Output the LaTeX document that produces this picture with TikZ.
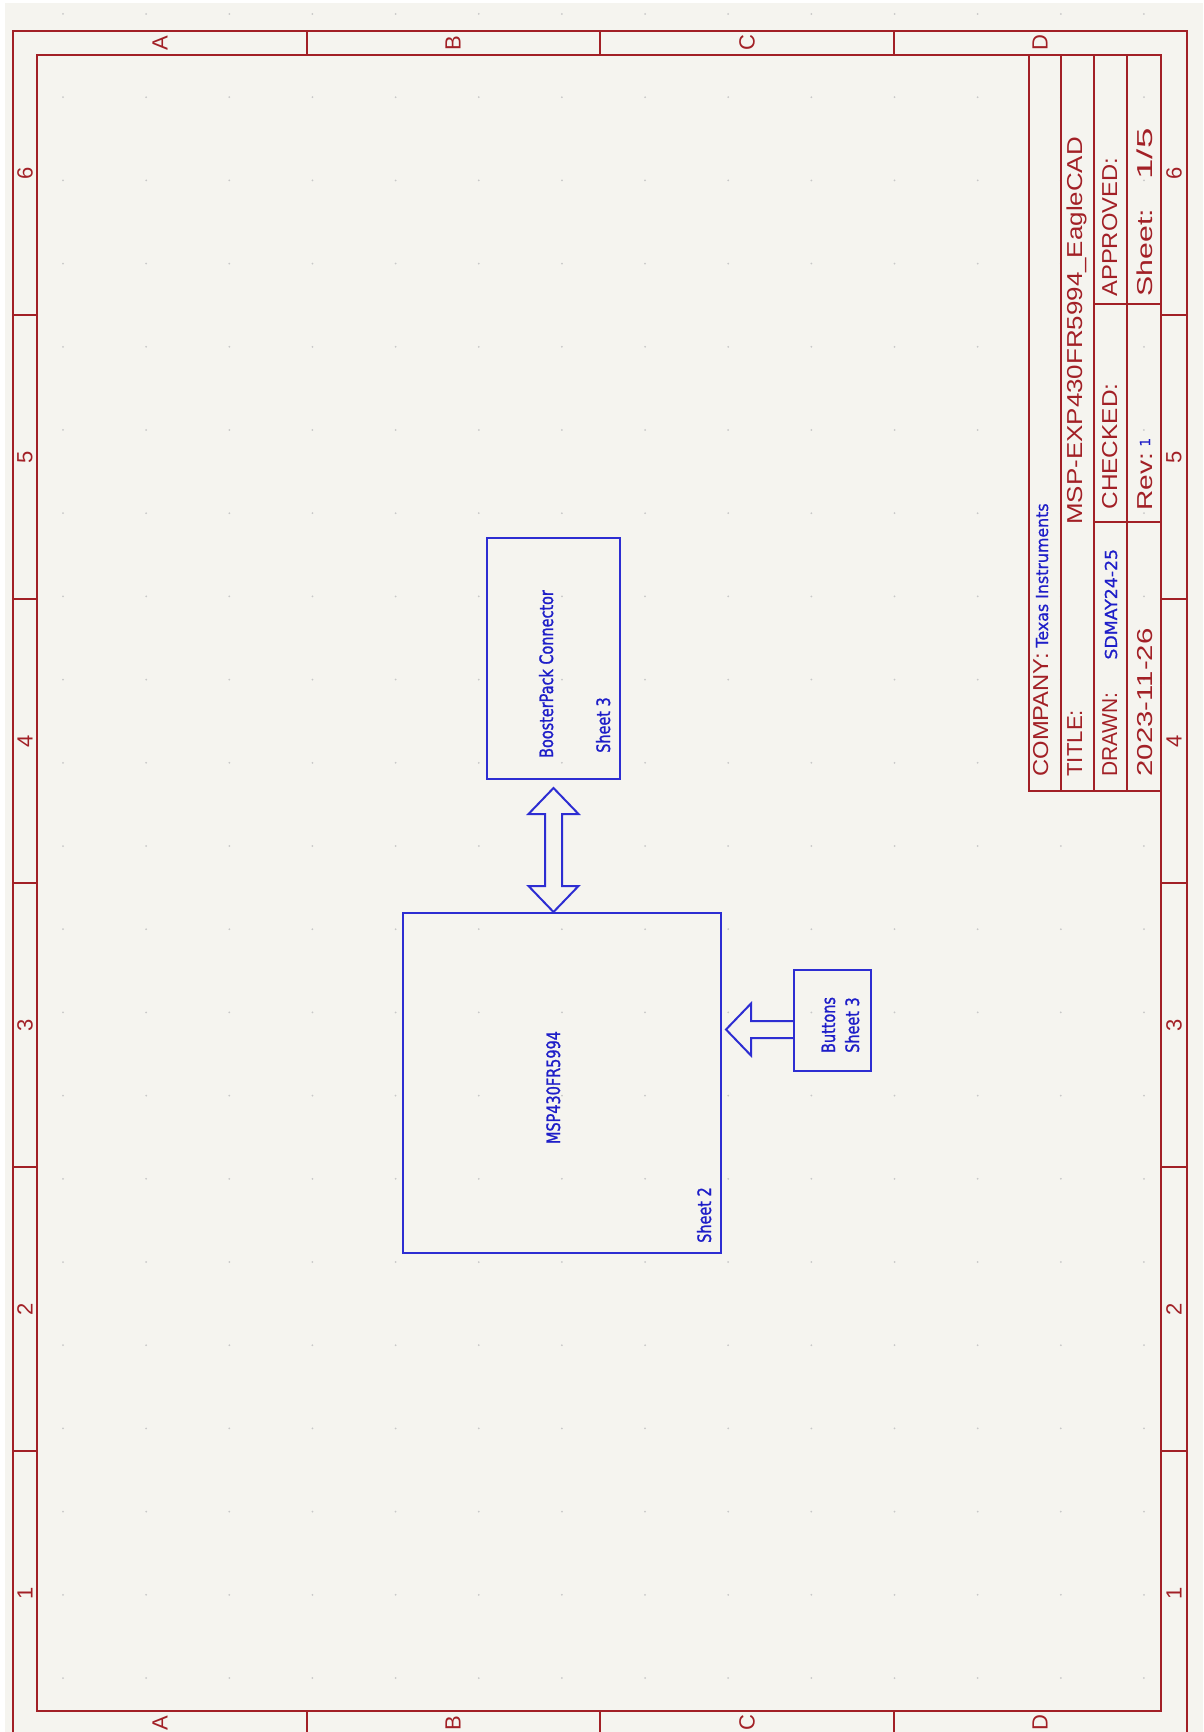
\documentclass[tikz,border=0pt]{standalone}
\usepackage{fontspec}
\setmainfont{Liberation Sans}
\newfontfamily\redfont{Liberation Sans}
\newfontfamily\bluefont[FakeStretch=0.78,FakeBold=1.2]{DejaVu Sans}
\newfontfamily\tbbluefont[FakeBold=0.8]{DejaVu Sans}
\usetikzlibrary{calc}
\definecolor{kired}{RGB}{162,32,38}
\definecolor{kiblue}{RGB}{45,45,210}
\definecolor{kitxt}{RGB}{30,30,200}
\definecolor{kibg}{RGB}{245,244,239}
\definecolor{griddot}{RGB}{200,200,200}
\newcommand{\sx}[2]{\scalebox{#1}[1]{#2}}
\tikzset{
  redline/.style={draw=kired, line width=1pt},
  sheetbox/.style={draw=kiblue, line width=1pt, inner sep=0pt, rectangle},
  arrowshape/.style={draw=kiblue, line width=1pt, line join=miter},
  borderlbl/.style={text=kired, font=\redfont\fontsize{11pt}{11pt}\selectfont, rotate=90, inner sep=0pt},
  tbtext/.style={text=kired, font=\redfont\fontsize{10.8pt}{10.8pt}\selectfont, rotate=90, inner sep=0pt, anchor=base west},
  tbblue/.style={text=kitxt, font=\tbbluefont\fontsize{8.25pt}{8.25pt}\selectfont, rotate=90, inner sep=0pt, anchor=base west},
  tbbluesmall/.style={text=kitxt, font=\tbbluefont\fontsize{6.9pt}{6.9pt}\selectfont, rotate=90, inner sep=0pt, anchor=base west},
  sheettext/.style={text=kitxt, font=\bluefont\fontsize{9.25pt}{9.25pt}\selectfont, rotate=90, inner sep=0pt, anchor=base},
}
\begin{document}
\begin{tikzpicture}[x=0.5pt,y=-0.5pt]
\useasboundingbox (0,0) rectangle (1203,1732);
\fill[white] (0,0) rectangle (1203,1732);
\fill[kibg] (5,3) rectangle (1203,1732);
% grid dots
\foreach \i in {0,...,13}{
  \foreach \j in {0,...,20}{
    \fill[griddot] ({63+83.15*\i},{14+83.2*\j}) circle[radius=1];
  }
}
% frame
\draw[redline] (13,31) rectangle (1187,1735);
\draw[redline] (37,55) rectangle (1161,1711);
\foreach \x in {306.5,600,893.5}{
  \draw[redline] (\x,31) -- (\x,55);
  \draw[redline] (\x,1711) -- (\x,1735);
}
\foreach \y in {315,599,883,1167,1451}{
  \draw[redline] (13,\y) -- (37,\y);
  \draw[redline] (1161,\y) -- (1187,\y);
}
\foreach \l/\x in {A/160,B/453,C/747,D/1040}{
  \node[borderlbl] (ct\l) at (\x,43) {\l};
  \node[borderlbl] (cb\l) at (\x,1723) {\l};
}
\foreach \n/\y in {6/173,5/457,4/741,3/1025,2/1309,1/1593}{
  \node[borderlbl] (rl\n) at (25,\y) {\n};
  \node[borderlbl] (rr\n) at (1174,\y) {\n};
}
% title block
\draw[redline] (1029,55) rectangle (1161,791);
\draw[redline] (1061,55) -- (1061,791);
\draw[redline] (1094,55) -- (1094,791);
\draw[redline] (1127,55) -- (1127,791);
\draw[redline] (1094,304) -- (1161,304);
\draw[redline] (1094,522) -- (1161,522);
\node[tbtext] (company) at (1048,777) {\sx{1.10}{COMPANY:}};
\node[tbblue] (companyname) at (1048,648) {\sx{0.96}{Texas Instruments}};
\node[tbtext] (titlelbl) at (1082,777) {\sx{1.03}{TITLE:}};
\node[tbtext] (titletext) at (1082,525) {\sx{1.20}{MSP-EXP430FR5994\_EagleCAD}};
\node[tbtext] (drawnlbl) at (1117,777) {\sx{0.97}{DRAWN:}};
\node[tbblue] (drawnby) at (1117,660) {\sx{1.05}{SDMAY24-25}};
\node[tbtext] (checkedlbl) at (1117,510) {\sx{1.13}{CHECKED:}};
\node[tbtext] (approvedlbl) at (1117,297) {\sx{1.10}{APPROVED:}};
\node[tbtext] (datetext) at (1152,777) {\sx{1.36}{2023-11-26}};
\node[tbtext] (revlbl) at (1152,511) {\sx{1.30}{Rev:}};
\node[tbbluesmall] (revnum) at (1150,447) {1};
\node[tbtext] (sheetlbl) at (1152,297) {\sx{1.40}{Sheet:}};
\node[tbtext] (sheetnum) at (1152,180) {\sx{1.70}{1/5}};
% sheet boxes
\node[sheetbox, minimum width=66.5pt, minimum height=120.5pt] (bp) at (553.5,658.5) {};
\node[sheetbox, minimum width=159pt, minimum height=170pt] (msp) at (562,1083) {};
\node[sheetbox, minimum width=38.5pt, minimum height=50.5pt] (btn) at (832.5,1020.5) {};
\node[sheettext] (bptitle) at (553,674) {BoosterPack Connector};
\node[sheettext] (bpsheet) at (610,725) {Sheet 3};
\node[sheettext] (msptitle) at (560,1087.5) {MSP430FR5994};
\node[sheettext] (mspsheet) at (711,1215) {Sheet 2};
\node[sheettext] (btntitle) at (835,1025) {Buttons};
\node[sheettext] (btnsheet) at (859,1025) {Sheet 3};
% double arrow between BoosterPack and MSP430
\coordinate (dtop) at ($(bp.south)+(0,8)$);
\coordinate (dbot) at (bp.south |- msp.north);
\draw[arrowshape] (dtop) -- ++(25,26) -- ++(-16.5,0) -- ($(dbot)+(8.5,-26)$) -- ++(16.5,0) -- (dbot)
  -- ++(-25,-26) -- ++(16.5,0) -- ($(dtop)+(-8.5,26)$) -- ++(-16.5,0) -- cycle;
% arrow from Buttons to MSP430
\coordinate (bshaft) at ($(btn.west)+(0,9)$);
\coordinate (btip) at ($(msp.east |- bshaft)+(4,0)$);
\draw[arrowshape] ($(bshaft)+(0,-8.5)$) -- ($(btip)+(25,-8.5)$) -- ++(0,-17.5) -- (btip)
  -- ++(25,26) -- ++(0,-17.5) -- ($(bshaft)+(0,8.5)$);
\end{tikzpicture}
\end{document}
